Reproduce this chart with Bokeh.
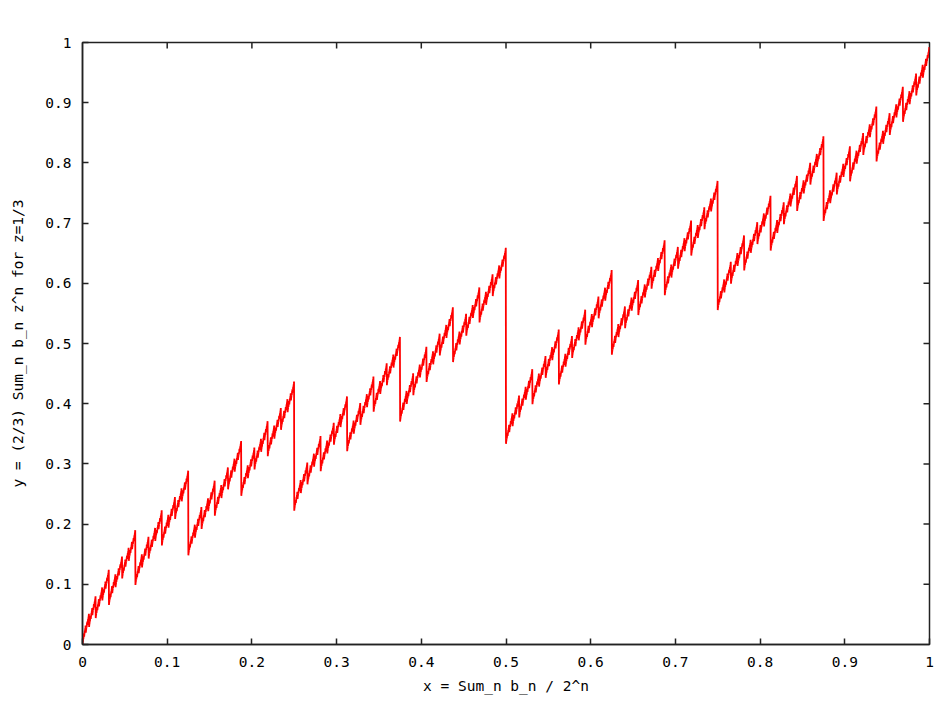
import numpy as np
from bokeh.plotting import figure
from bokeh.models import FixedTicker, Label
from bokeh.embed import file_html
from bokeh.resources import INLINE

# --- data ---
# height of the jump that each binary digit adds (value at x = 1/2, 1/4, 1/8, ...)
digit_weights = [0.3333, 0.2222, 0.1481, 0.0988, 0.0658, 0.0439,
                 0.0293, 0.0195, 0.0130, 0.0087, 0.0058, 0.0039]
tick_values = [0.0, 0.1, 0.2, 0.3, 0.4, 0.5, 0.6, 0.7, 0.8, 0.9, 1.0]
tick_labels = ["0", "0.1", "0.2", "0.3", "0.4", "0.5", "0.6", "0.7", "0.8", "0.9", "1"]
title_text = "Cantor Polynomial"
x_label = "x = Sum_n b_n / 2^n"
y_label = "y = (2/3) Sum_n b_n z^n for z=1/3"

# every binary fraction with n_digits digits, and its weighted digit sum
n_digits = len(digit_weights)
k = np.arange(2 ** n_digits)
bits = (k[:, None] >> (n_digits - 1 - np.arange(n_digits))[None, :]) & 1
xs = k / 2.0 ** n_digits
ys = bits @ np.array(digit_weights)

FONT = "DejaVu Sans Mono"
FS = "14.5px"
FRAME_COLOR = "#222222"

p = figure(width=940, height=708, x_range=(0, 1), y_range=(0, 1),
           output_backend="svg", toolbar_location=None,
           min_border_left=82, min_border_right=11,
           min_border_top=42, min_border_bottom=64)
p.background_fill_color = "white"
p.border_fill_color = "white"
p.outline_line_color = FRAME_COLOR
p.outline_line_width = 1.5
p.xgrid.visible = False
p.ygrid.visible = False

p.line(xs, ys, line_color="#ff0000", line_width=1.8)

ticker = FixedTicker(ticks=tick_values)
overrides = {v: s for v, s in zip(tick_values, tick_labels)}

for ax in (p.xaxis[0], p.yaxis[0]):
    ax.ticker = ticker
    ax.major_tick_in = 6
    ax.major_tick_out = 0
    ax.minor_tick_line_color = None
    ax.major_tick_line_color = FRAME_COLOR
    ax.major_tick_line_width = 1.5
    ax.axis_line_color = FRAME_COLOR
    ax.axis_line_width = 1.5
    ax.major_label_overrides = overrides
    ax.major_label_text_font = FONT
    ax.major_label_text_font_size = FS
    ax.major_label_text_color = "black"
    ax.axis_label_text_font = FONT
    ax.axis_label_text_font_size = FS
    ax.axis_label_text_font_style = "normal"
    ax.axis_label_text_color = "black"

xa = p.xaxis[0]
xa.axis_label = x_label
xa.major_label_standoff = 12
xa.axis_label_standoff = 8

ya = p.yaxis[0]
ya.axis_label = y_label
ya.major_label_standoff = 11
ya.axis_label_standoff = 16

# mirrored inward ticks on the top and right edges (6 px long)
tv = np.array(tick_values[1:-1])
tick_len_y = 6 / 602
tick_len_x = 6 / 847
p.segment(x0=tv, y0=np.ones_like(tv), x1=tv, y1=np.ones_like(tv) - tick_len_y,
          line_color=FRAME_COLOR, line_width=1.5)
p.segment(x0=np.ones_like(tv), y0=tv, x1=np.ones_like(tv) - tick_len_x, y1=tv,
          line_color=FRAME_COLOR, line_width=1.5)

p.add_layout(Label(x=0.497, y=1 + (42 - 14.5) / 602, text=title_text,
                   text_font=FONT, text_font_size=FS, text_color="black",
                   text_align="center", text_baseline="middle"))

open("out.html", "w").write(file_html(p, INLINE))
